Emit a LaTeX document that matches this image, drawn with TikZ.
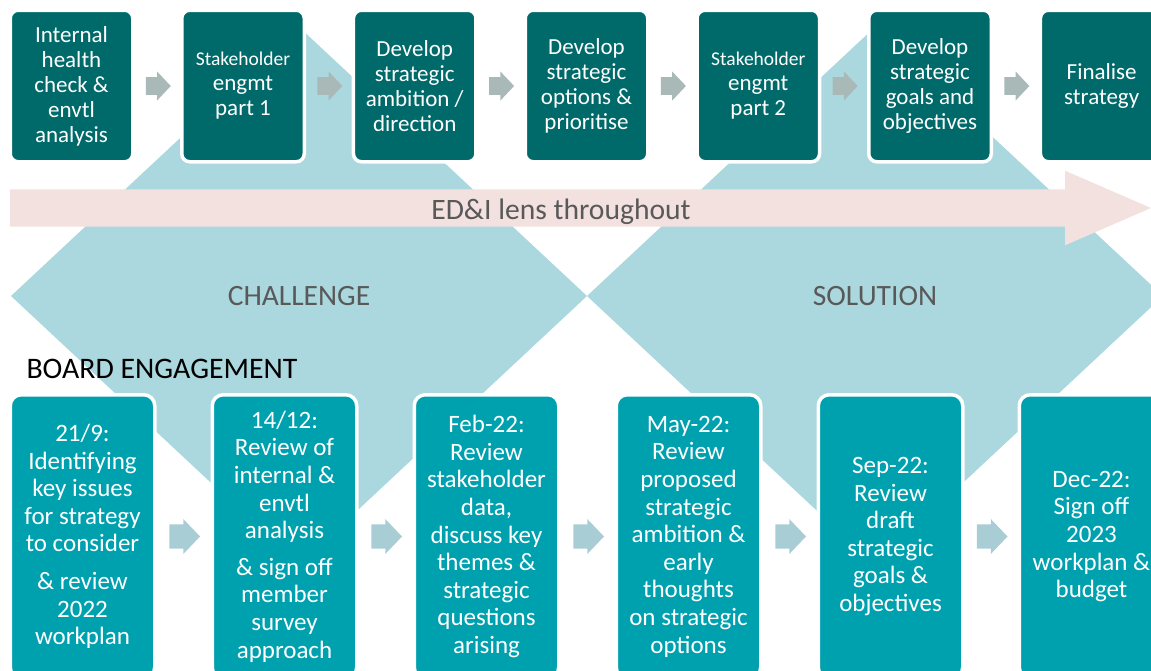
\documentclass[tikz,border=0pt]{standalone}
\usepackage{fontspec}
\setmainfont{Carlito}
\usetikzlibrary{shapes.geometric,calc}

\definecolor{darkTeal}{HTML}{006A6A}
\definecolor{boardTeal}{HTML}{00A1AF}
\definecolor{phaseBlue}{HTML}{AAD8DE}
\definecolor{lensPink}{HTML}{F2E1DF}
\definecolor{topArrow}{HTML}{A9B9B8}
\definecolor{boardArrow}{HTML}{A9CDD4}
\definecolor{labelGrey}{HTML}{595959}

\begin{document}
\begin{tikzpicture}[x=1pt, y=-1pt,
    topBox/.style={draw=white, line width=3.5, fill=darkTeal, rounded corners=8, minimum width=122.5, minimum height=151.5, align=center, text=white, inner sep=0, outer sep=0, font=\fontsize{23}{25}\selectfont},
    boardBox/.style={draw=white, line width=3.5, fill=boardTeal, rounded corners=11, minimum width=144.5, minimum height=283.5, align=center, text=white, inner sep=0, outer sep=0, font=\fontsize{25}{27.6}\selectfont},
    phase/.style={diamond, fill=phaseBlue, minimum width=576, minimum height=538, inner sep=0, outer sep=0, text=labelGrey, font=\fontsize{29.5}{32}\selectfont},
    topArr/.style={fill=topArrow},
    boardArr/.style={fill=boardArrow}]
    \useasboundingbox (0,0) rectangle (1151,670);
    \clip (0,0) rectangle (1151,670);
    % the two phases
    \node[phase] (challenge) at (299,296) {CHALLENGE};
    \node[phase] (solution) at (875,296) {SOLUTION};
    % lens band
    \fill[lensPink] (10,189.3) -- (1065,189.3) -- (1065,170.7) -- (1151,208) -- (1065,245.3) -- (1065,226.7) -- (10,226.7) -- cycle;
    \node[anchor=base, text=labelGrey, font=\fontsize{29.6}{32}\selectfont] (lens) at (561,219) {ED\&I lens throughout};
    \node[anchor=base west, font=\fontsize{29.8}{32}\selectfont] (board) at (23,378) {BOARD ENGAGEMENT};
    % strategy steps
    \node[topBox] (topOne) at (71.5,86) {Internal\\health\\check \&\\envtl\\analysis};
    \node[topBox] (topTwo) at (243,86) {{\fontsize{19.5}{25}\selectfont Stakeholder}\\engmt\\part 1};
    \node[topBox] (topThree) at (414.7,86) {Develop\\strategic\\ambition /\\direction};
    \node[topBox] (topFour) at (586.5,86) {Develop\\strategic\\options \&\\prioritise};
    \node[topBox] (topFive) at (758.3,86) {{\fontsize{19.5}{25}\selectfont Stakeholder}\\engmt\\part 2};
    \node[topBox] (topSix) at (930,86) {Develop\\strategic\\goals and\\objectives};
    \node[topBox] (topSeven) at (1101.7,86) {Finalise\\strategy};
    \foreach \a/\b in {topOne/topTwo, topTwo/topThree, topThree/topFour, topFour/topFive, topFive/topSix, topSix/topSeven}
      \fill[topArr] ($(\a.east)!0.5!(\b.west)$) +(-11.5,-8.8) -- +(-0.2,-8.8) -- +(-0.2,-14.5) -- +(13.5,0) -- +(-0.2,14.5) -- +(-0.2,8.8) -- +(-11.5,8.8) -- cycle;
    % board meetings
    \node[boardBox] (boardOne) at (82.5,536.5) {21/9:\\Identifying\\key issues\\for strategy\\to consider\\[10pt]\& review\\2022\\workplan};
    \node[boardBox] (boardTwo) at (284.5,536.5) {14/12:\\Review of\\internal \&\\envtl\\analysis\\[9pt]\& sign off\\member\\survey\\approach};
    \node[boardBox] (boardThree) at (486.5,536.5) {Feb-22:\\Review\\stakeholder\\data,\\discuss key\\themes \&\\strategic\\questions\\arising};
    \node[boardBox] (boardFour) at (688.5,536.5) {May-22:\\Review\\proposed\\strategic\\ambition \&\\early\\thoughts\\on strategic\\options};
    \node[boardBox] (boardFive) at (890.5,536.5) {Sep-22:\\Review\\draft\\strategic\\goals \&\\objectives};
    \node[boardBox] (boardSix) at (1091.5,536.5) {Dec-22:\\Sign off\\2023\\workplan \&\\budget};
    \foreach \a/\b in {boardOne/boardTwo, boardTwo/boardThree, boardThree/boardFour, boardFour/boardFive, boardFive/boardSix}
      \fill[boardArr] ($(\a.east)!0.5!(\b.west)$) +(-14.2,-12.2) -- +(-0.2,-12.2) -- +(-0.2,-17.5) -- +(16.5,0) -- +(-0.2,17.5) -- +(-0.2,12.2) -- +(-14.2,12.2) -- cycle;
\end{tikzpicture}
\end{document}
